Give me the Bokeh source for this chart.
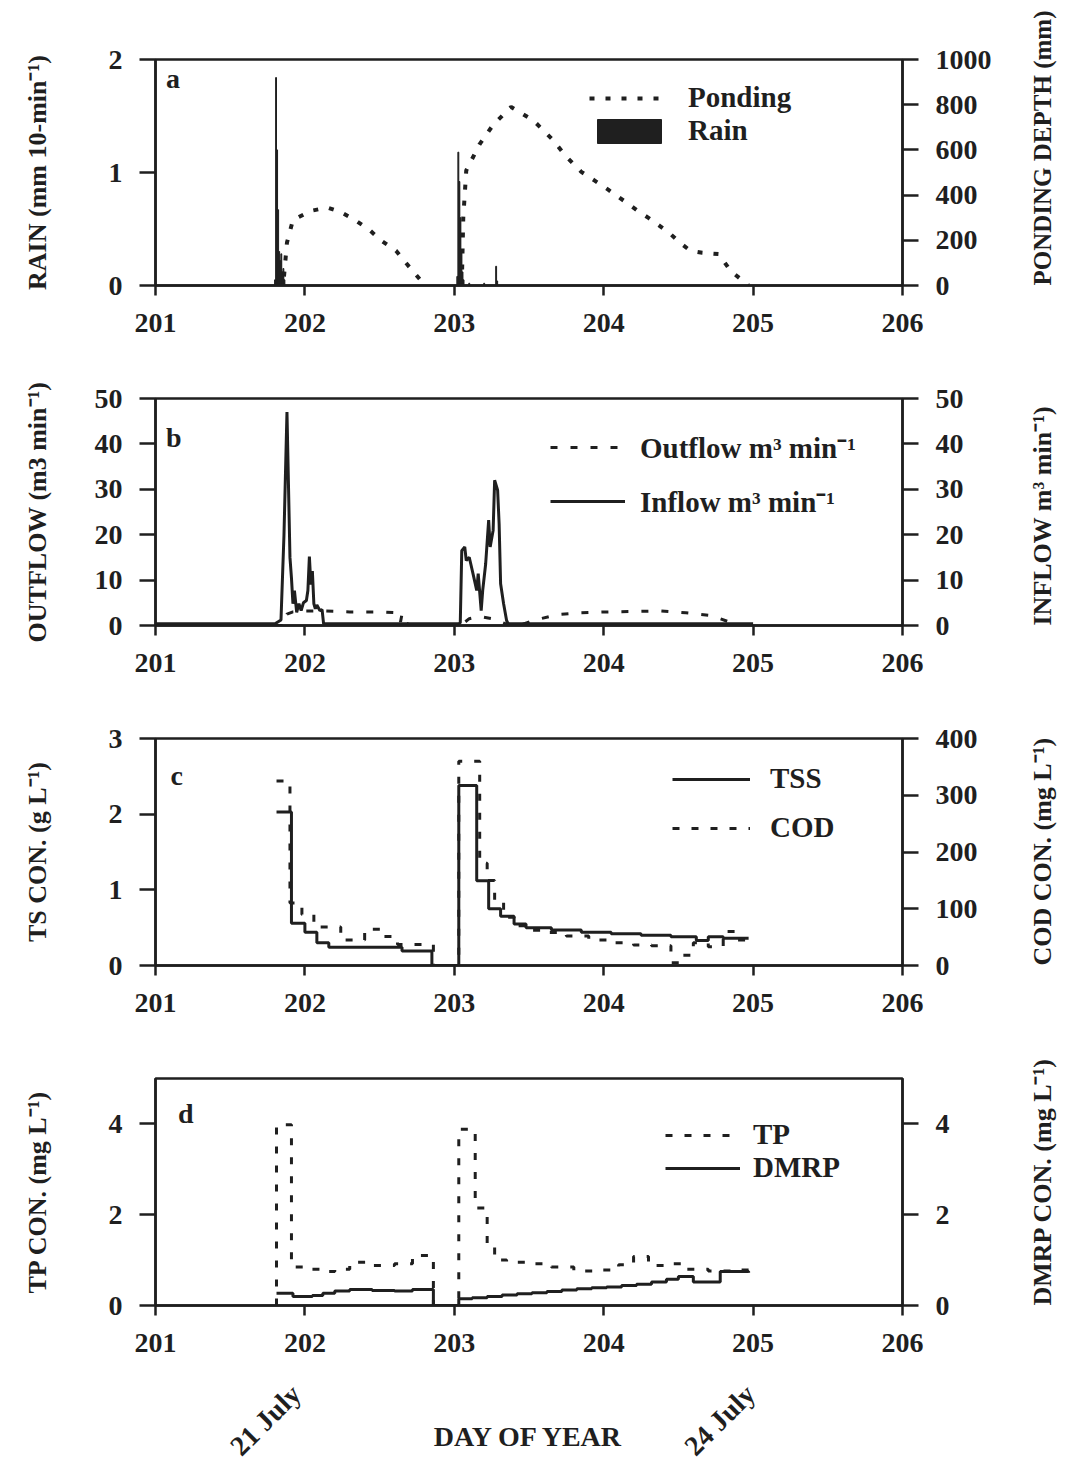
import math
from bokeh.plotting import figure
from bokeh.layouts import column
from bokeh.models import Range1d, LinearAxis, Legend, LegendItem, FixedTicker, Label
from bokeh.embed import file_html
from bokeh.resources import INLINE

FONT = "Liberation Serif"
INK = "#1f1f1f"

# ---------------- data ----------------
x_ticks = [201, 202, 203, 204, 205, 206]
date_ticks = [201.94, 204.98]
date_labels = ["21 July", "24 July"]

# panel a: rain (10-min totals) and ponding depth
rain_t = [201.800, 201.807, 201.814, 201.821, 201.828, 201.835, 201.842, 201.849, 201.856, 201.863,
          203.020, 203.027, 203.034, 203.041, 203.048, 203.055, 203.062, 203.100, 203.200, 203.280, 203.287]
rain_v = [0.05, 1.84, 1.20, 0.67, 0.30, 0.22, 0.28, 0.12, 0.15, 0.05,
          0.08, 1.18, 0.92, 0.60, 0.30, 0.12, 0.05, 0.02, 0.02, 0.17, 0.04]

pond1_t = [201.86, 201.88, 201.92, 202.04, 202.15, 202.24, 202.33, 202.43, 202.51, 202.61, 202.68, 202.78, 202.82]
pond1_v = [40, 190, 290, 330, 345, 325, 292, 247, 199, 154, 97, 19, 0]
pond2_t = [203.05, 203.06, 203.08, 203.17, 203.26, 203.38, 203.53, 203.65, 203.75, 203.85, 203.94, 204.03,
           204.10, 204.15, 204.23, 204.30, 204.37, 204.45, 204.52, 204.58, 204.66, 204.77, 204.85, 204.97]
pond2_v = [0, 300, 509, 626, 711, 790, 730, 651, 570, 503, 464, 424,
           391, 368, 329, 299, 266, 226, 184, 154, 145, 139, 64, 0]

# panel b: inflow / outflow (m3 min-1)
inflow_t = [201.00, 201.80, 201.84, 201.86, 201.88, 201.90, 201.91, 201.92, 201.93, 201.945, 201.96, 201.975,
            201.99, 202.01, 202.02, 202.03, 202.04, 202.05, 202.06, 202.07, 202.08, 202.10, 202.115, 202.125,
            203.03, 203.04, 203.05, 203.07, 203.08, 203.10, 203.11, 203.13, 203.15, 203.16, 203.18, 203.19,
            203.21, 203.23, 203.24, 203.26, 203.27, 203.29, 203.30, 203.31, 203.33, 203.35, 203.36, 205.00]
inflow_v = [0.4, 0.4, 1.2, 20.0, 47.0, 15.0, 10.5, 4.8, 7.7, 2.9, 4.8, 3.3,
            5.0, 5.5, 7.7, 15.2, 9.0, 12.0, 4.8, 3.7, 4.5, 3.3, 3.5, 0.4,
            0.4, 0.6, 16.5, 17.3, 14.3, 15.0, 13.6, 10.7, 7.7, 11.4, 3.3, 7.7,
            13.6, 23.2, 17.3, 21.0, 32.0, 29.8, 22.4, 9.2, 4.8, 1.1, 0.4, 0.4]

outflow_t = [201.00, 201.86, 201.88, 201.92, 202.00, 202.12, 202.30, 202.50, 202.62, 202.64, 202.65, 202.66,
             202.70, 203.05, 203.10, 203.17, 203.25, 203.35, 203.45, 203.54, 203.69, 203.85, 204.03, 204.21,
             204.38, 204.55, 204.72, 204.83, 204.90, 205.00]
outflow_v = [0.0, 0.0, 2.5, 3.0, 3.2, 3.2, 3.0, 3.0, 2.8, 0.8, 2.5, 0.8,
             0.2, 0.2, 1.5, 2.0, 1.5, 0.3, 0.2, 1.2, 2.4, 2.8, 3.0, 3.1,
             3.2, 2.8, 2.2, 0.9, 0.2, 0.2]

# panel c: TSS (g L-1) and COD (mg L-1)
tss_t = [201.81, 201.91, 202.00, 202.08, 202.16, 202.65, 202.85, 203.03, 203.15, 203.23, 203.31,
         203.40, 203.48, 203.65, 203.85, 204.05, 204.25, 204.45, 204.62, 204.70, 204.80, 204.97]
tss_v = [2.03, 0.56, 0.44, 0.30, 0.24, 0.19, 0.0, 2.38, 1.12, 0.75, 0.65,
         0.55, 0.50, 0.47, 0.44, 0.42, 0.40, 0.38, 0.33, 0.38, 0.36, 0.36]

cod_t = [201.81, 201.90, 201.98, 202.06, 202.24, 202.40, 202.52, 202.62, 202.86,
         203.03, 203.17, 203.22, 203.27, 203.33, 203.40, 203.50, 203.62, 203.75, 203.90,
         204.05, 204.20, 204.32, 204.45, 204.52, 204.60, 204.70, 204.80, 204.88, 204.97]
cod_v = [325, 110, 90, 68, 45, 64, 51, 37, 0,
         360, 180, 150, 115, 85, 70, 62, 58, 52, 45,
         40, 36, 35, 5, 18, 40, 33, 60, 45, 45]

# panel d: TP and DMRP (mg L-1)
tp_t = [201.81, 201.81, 201.91, 202.00, 202.10, 202.20, 202.30, 202.45, 202.60, 202.72, 202.86,
        203.03, 203.14, 203.22, 203.27, 203.35, 203.50, 203.65, 203.80, 203.95, 204.10, 204.20,
        204.30, 204.42, 204.55, 204.70, 204.85, 204.97]
tp_v = [0.0, 3.98, 0.85, 0.80, 0.75, 0.80, 0.95, 0.88, 0.92, 1.10, 0.0,
        3.88, 2.15, 1.30, 1.00, 0.95, 0.92, 0.85, 0.76, 0.78, 0.90, 1.08,
        0.88, 0.92, 0.80, 0.76, 0.78, 0.78]

dmrp_t = [201.81, 201.92, 202.05, 202.12, 202.20, 202.30, 202.45, 202.60, 202.72, 202.86,
          203.03, 203.12, 203.22, 203.32, 203.42, 203.52, 203.62, 203.72, 203.82, 203.92,
          204.02, 204.12, 204.22, 204.32, 204.42, 204.50, 204.60, 204.78, 204.97]
dmrp_v = [0.27, 0.20, 0.22, 0.27, 0.32, 0.35, 0.33, 0.32, 0.35, 0.0,
          0.15, 0.17, 0.20, 0.23, 0.26, 0.28, 0.31, 0.34, 0.37, 0.39,
          0.41, 0.44, 0.47, 0.52, 0.58, 0.64, 0.52, 0.75, 0.72]

# ---------------- helpers ----------------
TICK_FS = "28px"
AXL_FS = "26px"


def style_y(ax, ticks, label, standoff, right=False, label_fs=AXL_FS):
    ax.ticker = FixedTicker(ticks=ticks)
    ax.axis_line_color = INK
    ax.axis_line_width = 2.5
    ax.major_tick_line_color = INK
    ax.major_tick_line_width = 2.5
    ax.major_tick_out = 16
    ax.major_tick_in = 0
    ax.minor_tick_line_color = None
    ax.major_label_text_font = FONT
    ax.major_label_text_font_size = TICK_FS
    ax.major_label_text_font_style = "bold"
    ax.major_label_text_color = INK
    ax.major_label_standoff = 17
    ax.axis_label = label
    ax.axis_label_text_font = FONT
    ax.axis_label_text_font_size = label_fs
    ax.axis_label_text_font_style = "bold"
    ax.axis_label_text_color = INK
    ax.axis_label_standoff = standoff
    if right:
        # read bottom-to-top like the left-hand label, starting at the bottom of the axis
        ax.axis_label_orientation = math.pi / 2
        ax.axis_label_align = "start"


def make_fig(frame_h, top, bottom, y_end, y_ticks, r_end, r_ticks, llab, lstand, rlab, rstand, rfs=AXL_FS):
    p = figure(frame_width=747, frame_height=frame_h, x_range=Range1d(201, 206), y_range=Range1d(0, y_end),
               output_backend="svg", toolbar_location=None,
               min_border_left=155, min_border_right=167, min_border_top=top, min_border_bottom=bottom)
    p.extra_y_ranges = {"r": Range1d(0, r_end)}
    p.grid.visible = False
    p.outline_line_color = INK
    p.outline_line_width = 2.5
    p.background_fill_color = "white"
    p.border_fill_color = "white"
    xa = p.xaxis[0]
    xa.ticker = FixedTicker(ticks=x_ticks)
    xa.axis_line_color = INK
    xa.axis_line_width = 2.5
    xa.major_tick_line_color = INK
    xa.major_tick_line_width = 2.5
    xa.major_tick_out = 10
    xa.major_tick_in = 0
    xa.minor_tick_line_color = None
    xa.major_label_text_font = FONT
    xa.major_label_text_font_size = TICK_FS
    xa.major_label_text_font_style = "bold"
    xa.major_label_text_color = INK
    xa.major_label_standoff = 18
    style_y(p.yaxis[0], y_ticks, llab, lstand)
    ra = LinearAxis(y_range_name="r")
    style_y(ra, r_ticks, rlab, rstand, right=True, label_fs=rfs)
    p.add_layout(ra, "right")
    return p


def letter(p, x, y, text):
    p.add_layout(Label(x=x, y=y, text=text, text_font=FONT, text_font_size="28px",
                       text_font_style="bold", text_color=INK, text_align="left", text_baseline="middle"))


def legend(p, items, loc, glyph_w, glyph_h, spacing, standoff):
    lg = Legend(items=[LegendItem(label=l, renderers=[r]) for l, r in items], location=loc,
                background_fill_alpha=0, border_line_alpha=0, padding=0, margin=0,
                spacing=spacing, glyph_width=glyph_w, glyph_height=glyph_h, label_height=glyph_h,
                label_standoff=standoff, label_text_font=FONT, label_text_font_size="29px",
                label_text_font_style="bold", label_text_color=INK)
    p.add_layout(lg)


# ---------------- panel a ----------------
pa = make_fig(226, 59, 63, 2, [0, 1, 2], 1000, [0, 200, 400, 600, 800, 1000],
              "RAIN (mm 10-min⁻¹)", 54, "PONDING DEPTH (mm)", 48, rfs="25px")
r_rain = pa.vbar(x=rain_t, top=rain_v, width=0.006, bottom=0, fill_color=INK, line_color=INK, line_width=1)
r_p1 = pa.line(pond1_t, pond1_v, y_range_name="r", line_color=INK, line_width=4, line_dash="5 11")
pa.line(pond2_t, pond2_v, y_range_name="r", line_color=INK, line_width=4, line_dash="5 11")
legend(pa, [("Ponding", r_p1), ("Rain", r_rain)], (434, 138), 80, 30, 0, 19)
letter(pa, 201.07, 1.83, "a")

# ---------------- panel b ----------------
pb = make_fig(227, 50, 63, 50, [0, 10, 20, 30, 40, 50], 50, [0, 10, 20, 30, 40, 50],
              "OUTFLOW (m3 min⁻¹)", 40, "INFLOW m³ min⁻¹)", 76)
r_out = pb.line(outflow_t, outflow_v, line_color=INK, line_width=3, line_dash="7 13")
r_in = pb.line(inflow_t, inflow_v, y_range_name="r", line_color=INK, line_width=3)
legend(pb, [("Outflow m³ min⁻¹", r_out), ("Inflow m³ min⁻¹", r_in)], (395, 105), 75, 30, 15, 15)
letter(pb, 201.07, 41.4, "b")

# ---------------- panel c ----------------
pc = make_fig(227, 50, 63, 3, [0, 1, 2, 3], 400, [0, 100, 200, 300, 400],
              "TS CON. (g L⁻¹)", 54, "COD CON. (mg L⁻¹)", 62)
r_tss = pc.step(tss_t, tss_v, mode="after", line_color=INK, line_width=3)
r_cod = pc.step(cod_t, cod_v, mode="after", y_range_name="r", line_color=INK, line_width=3, line_dash="7 12")
legend(pc, [("TSS", r_tss), ("COD", r_cod)], (517, 121), 78, 30, 16, 20)
letter(pc, 201.1, 2.51, "c")

# ---------------- panel d ----------------
pd_ = make_fig(227, 50, 160, 5, [0, 2, 4], 5, [0, 2, 4],
               "TP CON. (mg L⁻¹)", 54, "DMRP CON. (mg L⁻¹)", 90)
r_tp = pd_.step(tp_t, tp_v, mode="after", line_color=INK, line_width=3, line_dash="7 12")
r_dm = pd_.step(dmrp_t, dmrp_v, mode="after", y_range_name="r", line_color=INK, line_width=3)
legend(pd_, [("TP", r_tp), ("DMRP", r_dm)], (510, 121), 75, 30, 0, 13)
letter(pd_, 201.15, 4.24, "d")

da = LinearAxis(ticker=FixedTicker(ticks=date_ticks),
                major_label_overrides={t: s for t, s in zip(date_ticks, date_labels)})
da.axis_line_color = None
da.major_tick_line_color = None
da.minor_tick_line_color = None
da.major_tick_out = 0
da.major_tick_in = 0
da.major_label_orientation = math.pi / 4
da.major_label_standoff = 35
da.major_label_text_font = FONT
da.major_label_text_font_size = "28px"
da.major_label_text_font_style = "bold"
da.major_label_text_color = INK
da.axis_label = "DAY OF YEAR"
da.axis_label_text_font = FONT
da.axis_label_text_font_size = "28px"
da.axis_label_text_font_style = "bold"
da.axis_label_text_color = INK
da.axis_label_standoff = -54
pd_.add_layout(da, "below")

layout = column(pa, pb, pc, pd_, spacing=0)
open("out.html", "w").write(file_html(layout, INLINE))
